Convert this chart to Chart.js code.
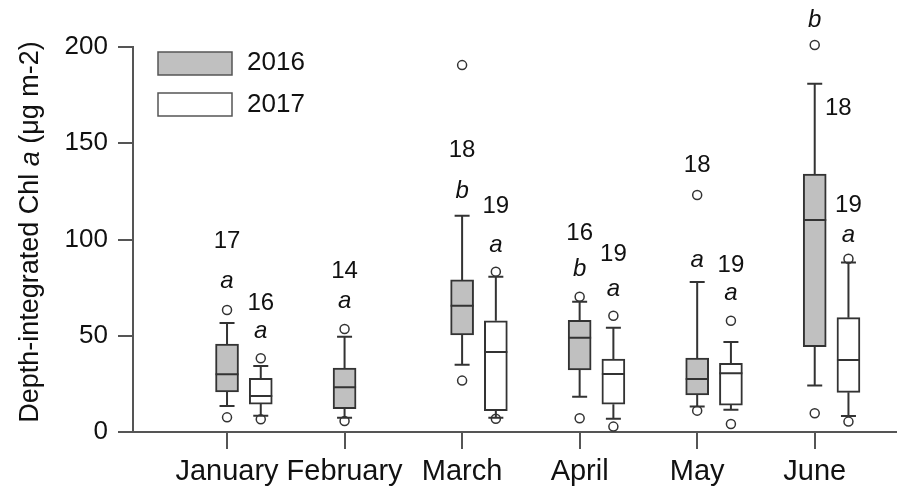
<!DOCTYPE html>
<html>
<head>
<meta charset="utf-8">
<script src="https://cdn.jsdelivr.net/npm/chart.js@4"></script>
<style>
  body { margin: 0; background: #fff; }
</style>
</head>
<body>
<canvas id="myChart" width="897" height="490"></canvas>
<script>
// month categories
const months = ["January", "February", "March", "April", "May", "June"];

// 2016 box plot values (Feb has only 2016)
const lo2016 = [13.5, 7.4, 35.0, 18.3, 13.2, 24.1];
const q1_2016 = [20.8, 12.1, 50.4, 32.2, 19.2, 44.3];
const med2016 = [30.0, 23.2, 65.6, 49.0, 27.5, 110.1];
const q3_2016 = [45.7, 33.2, 79.0, 58.0, 38.4, 134.0];
const hi2016 = [56.6, 49.5, 112.4, 67.7, 77.9, 180.9];
const out2016 = [[63.4, 7.6], [53.5, 5.7], [190.6, 26.7], [70.3, 7.1], [123.1, 11.1], [201.0, 9.7]];

// 2017 box plot values
const lo2017 = [8.5, null, 7.4, 6.9, 11.6, 8.3];
const q1_2017 = [14.5, null, 11.1, 14.4, 14.0, 20.6];
const med2017 = [18.7, null, 41.6, 30.1, 30.5, 37.4];
const q3_2017 = [27.9, null, 57.8, 37.9, 35.7, 59.4];
const hi2017 = [34.3, null, 80.7, 54.2, 46.8, 88.0];
const out2017 = [[38.3, 6.6], [], [83.3, 6.9], [60.4, 2.8], [57.8, 4.2], [90.0, 5.4]];

// sample sizes and significance letters
const n2016 = ["17", "14", "18", "16", "18", "18"];
const sig2016 = ["a", "a", "b", "b", "a", "b"];
const n2017 = ["16", null, "19", "19", "19", "19"];
const sig2017 = ["a", null, "a", "a", "a", "a"];

// where the labels sit (in y units), and a small x shift for June 2016's n
const nPos2016 = [98.9, 83.3, 146.5, 103.2, 138.3, 168.2];
const sigPos2016 = [78.1, 67.7, 124.8, 84.5, 89.4, 214.0];
const nPos2017 = [66.9, null, 117.0, 92.5, 86.4, 117.9];
const sigPos2017 = [52.1, null, 97.1, 74.1, 72.1, 102.3];
const nShift2016 = [0, 0, 0, 0, 0, 0.2];

const yTicks = [0, 50, 100, 150, 200];

const OFFSET_2017 = 0.287; // 2017 boxes sit right of the month tick
const FONT = "'Liberation Sans', Arial, sans-serif";
const INK = "#333";
const AXIS = "#555";
const GREY = "#c0c0c0";
const CAP = 15;

function boxData(q1, q3, shift) {
  const out = [];
  months.forEach((m, i) => {
    if (q1[i] != null) out.push({ x: i + shift, y: [q1[i], q3[i]] });
  });
  return out;
}

function outlierData(list, shift) {
  const out = [];
  list.forEach((vals, i) => vals.forEach((v) => out.push({ x: i + shift, y: v })));
  return out;
}

// whiskers, caps, medians, labels, legend and y title
const boxExtras = {
  id: "boxExtras",
  afterDatasetsDraw(chart) {
    const c = chart.ctx;
    const xs = chart.scales.x;
    const ys = chart.scales.y;
    const sets = [
      { lo: lo2016, q1: q1_2016, med: med2016, q3: q3_2016, hi: hi2016, shift: 0 },
      { lo: lo2017, q1: q1_2017, med: med2017, q3: q3_2017, hi: hi2017, shift: OFFSET_2017 },
    ];
    c.save();
    c.strokeStyle = INK;
    c.lineWidth = 2;
    sets.forEach((s) => {
      months.forEach((m, i) => {
        if (s.q1[i] == null) return;
        const x = xs.getPixelForValue(i + s.shift);
        const half = 11.5;
        c.beginPath();
        c.moveTo(x, ys.getPixelForValue(s.q3[i]));
        c.lineTo(x, ys.getPixelForValue(s.hi[i]));
        c.moveTo(x, ys.getPixelForValue(s.q1[i]));
        c.lineTo(x, ys.getPixelForValue(s.lo[i]));
        c.moveTo(x - CAP / 2, ys.getPixelForValue(s.hi[i]));
        c.lineTo(x + CAP / 2, ys.getPixelForValue(s.hi[i]));
        c.moveTo(x - CAP / 2, ys.getPixelForValue(s.lo[i]));
        c.lineTo(x + CAP / 2, ys.getPixelForValue(s.lo[i]));
        c.moveTo(x - half, ys.getPixelForValue(s.med[i]));
        c.lineTo(x + half, ys.getPixelForValue(s.med[i]));
        c.stroke();
      });
    });

    // n and letters
    c.fillStyle = "#111";
    c.textAlign = "center";
    c.textBaseline = "middle";
    const drawLabels = (ns, sigs, nPos, sigPos, shift, nShift) => {
      months.forEach((m, i) => {
        if (ns[i] == null) return;
        c.font = "24px " + FONT;
        c.fillText(ns[i], xs.getPixelForValue(i + shift + (nShift ? nShift[i] : 0)), ys.getPixelForValue(nPos[i]));
        c.font = "italic 24px " + FONT;
        c.fillText(sigs[i], xs.getPixelForValue(i + shift), ys.getPixelForValue(sigPos[i]));
      });
    };
    drawLabels(n2016, sig2016, nPos2016, sigPos2016, 0, nShift2016);
    drawLabels(n2017, sig2017, nPos2017, sigPos2017, OFFSET_2017, null);

    // legend
    c.lineWidth = 1.5;
    c.strokeStyle = AXIS;
    c.fillStyle = GREY;
    c.fillRect(158, 52, 74, 23);
    c.strokeRect(158, 52, 74, 23);
    c.fillStyle = "#fff";
    c.fillRect(158, 93, 74, 23);
    c.strokeRect(158, 93, 74, 23);
    c.fillStyle = "#111";
    c.textAlign = "left";
    c.font = "26px " + FONT;
    c.fillText("2016", 247, 63);
    c.fillText("2017", 247, 105);

    // y axis title with italic "a"
    const parts = [
      ["Depth-integrated Chl ", "27px " + FONT],
      ["a", "italic 27px " + FONT],
      [" (μg m-2)", "27px " + FONT],
    ];
    let total = 0;
    parts.forEach((p) => { c.font = p[1]; total += c.measureText(p[0]).width; });
    c.translate(31, 232);
    c.rotate(-Math.PI / 2);
    let px = -total / 2;
    parts.forEach((p) => {
      c.font = p[1];
      c.fillText(p[0], px, 0);
      px += c.measureText(p[0]).width;
    });
    c.restore();
  },
};

const ctx = document.getElementById("myChart");

new Chart(ctx, {
  data: {
    datasets: [
      {
        type: "bar",
        label: "2016",
        data: boxData(q1_2016, q3_2016, 0),
        backgroundColor: GREY,
        borderColor: INK,
        borderWidth: 2,
        borderSkipped: false,
        barThickness: 23,
        grouped: false,
      },
      {
        type: "bar",
        label: "2017",
        data: boxData(q1_2017, q3_2017, OFFSET_2017),
        backgroundColor: "#fff",
        borderColor: INK,
        borderWidth: 2,
        borderSkipped: false,
        barThickness: 23,
        grouped: false,
      },
      {
        type: "scatter",
        label: "outliers 2016",
        data: outlierData(out2016, 0),
        pointRadius: 4.5,
        pointBorderWidth: 1.5,
        pointBackgroundColor: "rgba(0,0,0,0)",
        pointBorderColor: INK,
        clip: false,
      },
      {
        type: "scatter",
        label: "outliers 2017",
        data: outlierData(out2017, OFFSET_2017),
        pointRadius: 4.5,
        pointBorderWidth: 1.5,
        pointBackgroundColor: "rgba(0,0,0,0)",
        pointBorderColor: INK,
        clip: false,
      },
    ],
  },
  options: {
    responsive: false,
    animation: false,
    devicePixelRatio: 1,
    layout: { autoPadding: false, padding: { top: 47, right: 0, left: 0, bottom: 0 } },
    plugins: {
      legend: { display: false },
      tooltip: { enabled: false },
    },
    scales: {
      x: {
        type: "linear",
        min: -0.8,
        max: 5.7,
        offset: false,
        afterBuildTicks: (scale) => {
          scale.ticks = months.map((m, i) => ({ value: i }));
        },
        afterFit: (scale) => { scale.height = 58; },
        ticks: {
          callback: (v) => months[v],
          font: { family: FONT, size: 29 },
          color: "#111",
          padding: 6,
          maxRotation: 0,
          autoSkip: false,
        },
        grid: { offset: false, drawOnChartArea: false, tickLength: 17, color: AXIS, lineWidth: 2 },
        border: { color: AXIS, width: 2 },
      },
      y: {
        min: 0,
        max: 200,
        afterBuildTicks: (scale) => {
          scale.ticks = yTicks.map((v) => ({ value: v }));
        },
        afterFit: (scale) => { scale.width = 133; },
        ticks: {
          font: { family: FONT, size: 26 },
          color: "#111",
          padding: 10,
        },
        grid: { drawOnChartArea: false, tickLength: 15, color: AXIS, lineWidth: 2 },
        border: { color: AXIS, width: 2 },
      },
    },
  },
  plugins: [boxExtras],
});
</script>
</body>
</html>
